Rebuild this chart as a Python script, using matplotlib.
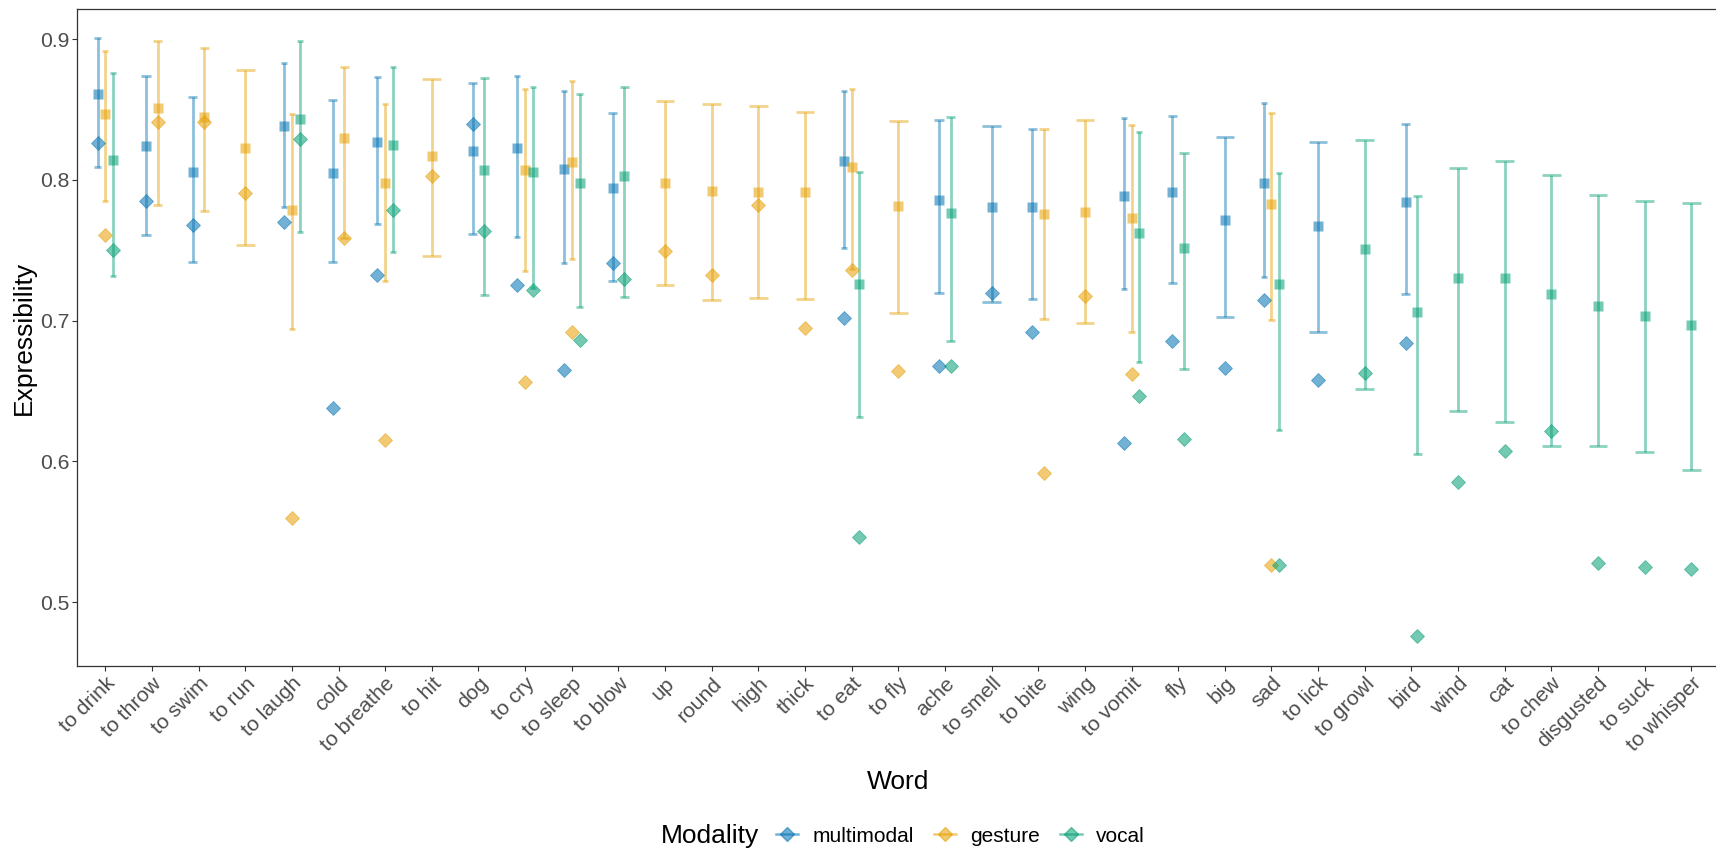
import matplotlib
matplotlib.use("Agg")
import matplotlib.pyplot as plt
from matplotlib.lines import Line2D
import numpy as np

plt.rcParams['font.family'] = ['Liberation Sans', 'DejaVu Sans']

words = ["to drink", "to throw", "to swim", "to run", "to laugh", "cold", "to breathe",
         "to hit", "dog", "to cry", "to sleep", "to blow", "up", "round", "high", "thick",
         "to eat", "to fly", "ache", "to smell", "to bite", "wing", "to vomit", "fly", "big",
         "sad", "to lick", "to growl", "bird", "wind", "cat", "to chew", "disgusted",
         "to suck", "to whisper"]

N = None
# multimodal: square (mean), lower, upper, diamond
multimodal_mean = [.861, .8245, .806, N, .8386, .805, .827, N, .8206, .8224, .808, .7945, N, N, N, N,
                   .8134, N, .7861, .781, .781, N, .7888, .7918, .7718, .7981, .7676, N, .7846,
                   N, N, N, N, N, N]
multimodal_lo = [.809, .761, .742, N, .781, .742, .7685, N, .7616, .7592, .741, .728, N, N, N, N,
                 .7514, N, .72, .713, .7151, N, .7223, .7271, .7028, .7307, .692, N, .719,
                 N, N, N, N, N, N]
multimodal_hi = [.901, .874, .859, N, .883, .857, .873, N, .869, .8736, .863, .8479, N, N, N, N,
                 .8634, N, .8428, .8386, .8359, N, .8443, .8455, .8302, .8548, .8272, N, .8398,
                 N, N, N, N, N, N]
multimodal_pt = [.826, .785, .768, N, .770, .638, .7325, N, .8395, .7256, .6648, .741, N, N, N, N,
                 .7022, N, .6678, .7196, .6918, N, .613, .6858, .6666, .7145, .6582, N, .6843,
                 N, N, N, N, N, N]

gesture_mean = [.847, .851, .845, .823, .779, .830, .798, .817, N, .8074, .813, N, .7975, .7924,
                .7918, .7918, .8092, .7816, N, N, .776, .7775, .7727, N, N, .7831,
                N, N, N, N, N, N, N, N, N]
gesture_lo = [.785, .782, .778, .754, .694, .759, .728, .746, N, .7352, .744, N, .7253, .715,
              .716, .7157, .7367, .7052, N, N, .7013, .6987, .692, N, N, .7002,
              N, N, N, N, N, N, N, N, N]
gesture_hi = [.892, .899, .894, .878, .847, .8805, .854, .8715, N, .865, .8703, N, .8563, .854,
              .8527, .8485, .865, .8419, N, N, .8365, .8428, .8392, N, N, .8479,
              N, N, N, N, N, N, N, N, N]
gesture_pt = [.761, .841, .841, .791, .560, .759, .615, .803, N, .6564, .692, N, .7493, .7322,
              .7825, .695, .7361, .6642, N, N, .5917, .7178, .6624, N, N, .5261,
              N, N, N, N, N, N, N, N, N]

vocal_mean = [.814, N, N, N, .843, N, .825, N, .807, .8056, .7975, .803, N, N, N, N,
              .7262, N, .7768, N, N, N, .7625, .752, N, .7262, N, .7511, .7064,
              .7304, .7304, .719, .7106, .7034, .6972]
vocal_lo = [.732, N, N, N, .763, N, .749, N, .718, .7232, .7094, .7169, N, N, N, N,
            .6318, N, .6858, N, N, N, .6705, .666, N, .6225, N, .6516, .6049,
            .6357, .6282, .6112, .6109, .6064, .5938]
vocal_hi = [.876, N, N, N, .899, N, .8805, N, .8724, .8661, .861, .8658, N, N, N, N,
            .8056, N, .8449, N, N, N, .8338, .8194, N, .8047, N, .8287, .7888,
            .8083, .8134, .8038, .7894, .7849, .7834]
vocal_pt = [.750, N, N, N, .829, N, .779, N, .764, .7217, .686, .7298, N, N, N, N,
            .5464, N, .6678, N, N, N, .6468, .616, N, .5261, N, .6627, .476,
            .5854, .6073, .6216, .5279, .5249, .5234]

modalities = ["multimodal", "gesture", "vocal"]
colors = {"multimodal": "#0072B2", "gesture": "#E69F00", "vocal": "#009E73"}
series = {
    "multimodal": (multimodal_mean, multimodal_lo, multimodal_hi, multimodal_pt),
    "gesture": (gesture_mean, gesture_lo, gesture_hi, gesture_pt),
    "vocal": (vocal_mean, vocal_lo, vocal_hi, vocal_pt),
}

W, H = 1716, 851
fig = plt.figure(figsize=(W / 100, H / 100), dpi=100)
ax = fig.add_axes([77.3 / W, 1 - 665.7 / H, (1719.3 - 77.3) / W, (665.7 - 9.3) / H])

dodge = 0.5
capw = 0.4
present = [[m for m in modalities if series[m][0][i] is not None] for i in range(len(words))]
pos = {m: [None] * len(words) for m in modalities}
nper = [len(p) for p in present]
for i, p in enumerate(present):
    n = len(p)
    for j, m in enumerate(p):
        pos[m][i] = i + (j - (n - 1) / 2) * dodge / n

ebar_alpha = 0.45
pt_alpha = 0.55
lw_e = 2.0
for m in modalities:
    mean, lo, hi, pt = series[m]
    idx = [i for i in range(len(words)) if mean[i] is not None]
    xs = np.array([pos[m][i] for i in idx])
    los = np.array([lo[i] for i in idx])
    his = np.array([hi[i] for i in idx])
    cw = np.array([capw / nper[i] for i in idx])
    ax.vlines(xs, los, his, color=colors[m], alpha=ebar_alpha, lw=lw_e, zorder=2)
    ax.hlines(los, xs - cw / 2, xs + cw / 2, color=colors[m], alpha=ebar_alpha, lw=lw_e, zorder=2)
    ax.hlines(his, xs - cw / 2, xs + cw / 2, color=colors[m], alpha=ebar_alpha, lw=lw_e, zorder=2)
for m in modalities:
    mean = series[m][0]
    idx = [i for i in range(len(words)) if mean[i] is not None]
    ax.plot([pos[m][i] for i in idx], [mean[i] for i in idx], ls='none', marker='s',
            markersize=7.9, color=colors[m], alpha=pt_alpha, mec='none', zorder=3)
for m in modalities:
    pt = series[m][3]
    idx = [i for i in range(len(words)) if pt[i] is not None]
    ax.plot([pos[m][i] for i in idx], [pt[i] for i in idx], ls='none', marker='D',
            markersize=7.0, color=colors[m], alpha=pt_alpha, mec=colors[m], mew=0.6, zorder=4)

ax.set_xlim(-0.6, len(words) - 1 + 0.6)
ax.set_ylim(0.4548, 0.9213)
ax.set_yticks([0.5, 0.6, 0.7, 0.8, 0.9])
ax.set_yticklabels(["0.5", "0.6", "0.7", "0.8", "0.9"])
ax.set_xticks(range(len(words)))
ax.set_xticklabels(words, rotation=45, ha='right', va='top', rotation_mode='anchor')
ax.tick_params(axis='both', labelsize=15.2, labelcolor='#4D4D4D', color='#333333',
               length=3.3, width=0.8, pad=2.5)
for s in ax.spines.values():
    s.set_color('#333333')
    s.set_linewidth(0.9)

ax.set_xlabel("Word", fontsize=19, va='center')
ax.xaxis.set_label_coords(0.5, (665.7 - 782) / (665.7 - 9.3))
ax.set_ylabel("Expressibility", fontsize=19, va='center')
ax.yaxis.set_label_coords((24 - 77.3) / (1719.3 - 77.3), 0.5)

fig.text(661 / W, 1 - 836 / H, "Modality", fontsize=19, ha='left', va='center')
handles = [Line2D([], [], color=colors[m], alpha=pt_alpha, lw=1.8, marker='D', markersize=7.0,
                  mec=colors[m]) for m in modalities]
fig.legend(handles, modalities, ncol=3, loc='center left', bbox_to_anchor=(776 / W, 1 - 836 / H),
           frameon=False, fontsize=15.0, handlelength=1.05, handletextpad=0.7,
           columnspacing=0.95, borderpad=0, borderaxespad=0)

fig.savefig("out.png", dpi=100)
